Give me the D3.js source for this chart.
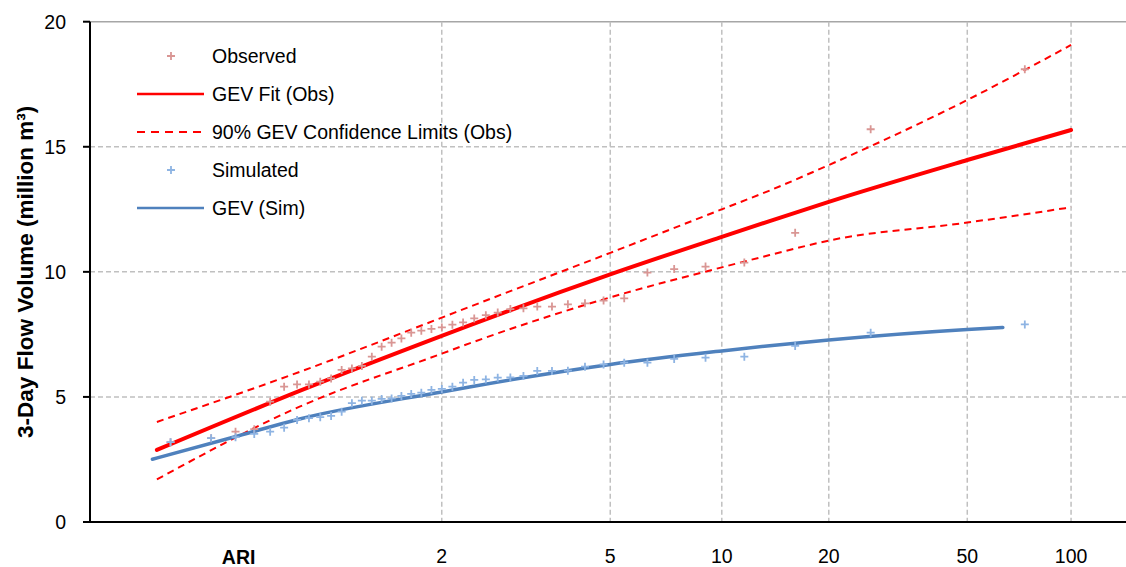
<!DOCTYPE html>
<html>
<head>
<meta charset="utf-8">
<script src="https://cdn.jsdelivr.net/npm/d3@7"></script>
<style>
  html, body { margin: 0; padding: 0; background: #fff; }
  svg { display: block; font-family: "Liberation Sans", Arial, sans-serif; }
</style>
</head>
<body>
<svg id="chart" width="1126" height="567"></svg>
<script>
// ---- Data (x values are Gumbel reduced variates) ----
const ariTicks = [2, 5, 10, 20, 50, 100];
const yTicks = [0, 5, 10, 15, 20];

// plotting positions of the 41 ranked values (largest first)
const plotPos = [4.289, 3.252, 2.744, 2.402, 2.141, 1.930, 1.750, 1.594, 1.455, 1.330,
  1.215, 1.108, 1.009, 0.916, 0.828, 0.743, 0.663, 0.585, 0.510, 0.438,
  0.367, 0.297, 0.229, 0.161, 0.095, 0.029, -0.038, -0.104, -0.171, -0.238,
  -0.307, -0.378, -0.451, -0.527, -0.607, -0.694, -0.788, -0.895, -1.021, -1.185, -1.458];

const observed = [18.10, 15.70, 11.56, 10.37, 10.21, 10.11, 9.97, 8.94, 8.85, 8.74,
  8.70, 8.61, 8.61, 8.54, 8.51, 8.37, 8.27, 8.14, 7.98, 7.89,
  7.78, 7.72, 7.65, 7.57, 7.34, 7.17, 7.01, 6.61, 6.24, 6.14,
  6.08, 5.74, 5.61, 5.50, 5.50, 5.41, 4.81, 3.71, 3.61, 3.35, 3.19];

const simulated = [7.90, 7.57, 7.04, 6.61, 6.57, 6.52, 6.37, 6.37, 6.30, 6.21,
  6.05, 6.04, 6.04, 5.84, 5.78, 5.77, 5.70, 5.68, 5.57, 5.41,
  5.32, 5.28, 5.17, 5.12, 5.04, 4.94, 4.92, 4.85, 4.85, 4.75,
  4.41, 4.24, 4.19, 4.15, 4.08, 3.77, 3.61, 3.52, 3.39, 3.35, 3.19];

// GEV fit to observed + 90% confidence limits
const fitObsX  = [-1.55, -0.59, 0.3665, 0.553, 1.4999, 2.2504, 2.572, 2.9702, 3.9019, 4.6001];
const fitObs   = [2.88, 5.24, 7.44, 7.86, 9.90, 11.40, 12.03, 12.80, 14.47, 15.67];
const clUpper  = [4.00, 6.00, 8.17, 8.60, 10.76, 12.50, 13.25, 14.27, 16.87, 19.07];
const clLower  = [1.70, 4.61, 6.73, 7.14, 8.98, 10.18, 10.67, 11.25, 11.97, 12.58];

// GEV fit to simulated
const fitSimX  = [-1.58, -1.0, -0.59, 0.3665, 0.553, 1.4999, 2.2504, 2.572, 2.9702, 3.9019, 4.141];
const fitSim   = [2.51, 3.45, 4.12, 5.20, 5.40, 6.30, 6.84, 7.05, 7.28, 7.70, 7.78];

const legendLabels = ["Observed", "GEV Fit (Obs)", "90% GEV Confidence Limits (Obs)", "Simulated", "GEV (Sim)"];

// ---- Chart ----
const svg = d3.select("#chart");
const W = 1126, H = 567;
svg.append("rect").attr("width", W).attr("height", H).attr("fill", "#fff");

const gumbel = T => -Math.log(-Math.log(1 - 1 / T));
const x = d3.scaleLinear().domain([-2, 5]).range([90, 1130.5]);
const y = d3.scaleLinear().domain([0, 20]).range([522, 21.7]);

const red = "#ff0000", blue = "#4f81bd", obsCol = "#d99694", simCol = "#8eb4e3";
const grid = "#c0c0c0";
const fs = 19.5;

// gridlines
const g = svg.append("g");
g.selectAll(".hg").data(yTicks.filter(v => v > 0 && v < 20)).enter().append("line")
  .attr("x1", x(-2)).attr("x2", W).attr("y1", d => y(d)).attr("y2", d => y(d))
  .attr("stroke", grid).attr("stroke-width", 1.5).attr("stroke-dasharray", "5,3");
g.append("line").attr("x1", x(-2)).attr("x2", W).attr("y1", y(20)).attr("y2", y(20))
  .attr("stroke", "#a6a6a6").attr("stroke-width", 1.5);
g.selectAll(".vg").data(ariTicks).enter().append("line")
  .attr("x1", d => x(gumbel(d))).attr("x2", d => x(gumbel(d)))
  .attr("y1", y(20)).attr("y2", y(0))
  .attr("stroke", grid).attr("stroke-width", 1.5).attr("stroke-dasharray", "5,3");

// axes
svg.append("line").attr("x1", x(-2)).attr("x2", x(-2)).attr("y1", y(20)).attr("y2", y(0) + 1)
  .attr("stroke", "#000").attr("stroke-width", 2);
svg.append("line").attr("x1", x(-2) - 1).attr("x2", W).attr("y1", y(0)).attr("y2", y(0))
  .attr("stroke", "#000").attr("stroke-width", 2);
svg.selectAll(".yt").data(yTicks).enter().append("line")
  .attr("x1", x(-2) - 7).attr("x2", x(-2)).attr("y1", d => y(d)).attr("y2", d => y(d))
  .attr("stroke", "#000").attr("stroke-width", 2);
svg.selectAll(".yl").data(yTicks).enter().append("text")
  .attr("x", 66).attr("y", d => y(d)).attr("dy", "0.35em")
  .attr("text-anchor", "end").attr("font-size", fs).attr("fill", "#000")
  .text(d => d);
svg.selectAll(".xl").data(ariTicks).enter().append("text")
  .attr("x", d => x(gumbel(d))).attr("y", 563)
  .attr("text-anchor", "middle").attr("font-size", fs).attr("fill", "#000")
  .text(d => d);
svg.append("text").attr("x", x(-1)).attr("y", 564)
  .attr("text-anchor", "middle").attr("font-size", fs).attr("font-weight", "bold")
  .text("ARI");
svg.append("text").attr("transform", `translate(33,${(y(0) + y(20)) / 2}) rotate(-90)`)
  .attr("text-anchor", "middle").attr("font-size", 22.5).attr("font-weight", "bold")
  .text("3-Day Flow Volume (million m³)");

// curves
const line = d3.line().curve(d3.curveMonotoneX);
function drawCurve(xs, ys, color, width, dash) {
  const p = svg.append("path")
    .attr("d", line(xs.map((v, i) => [x(v), y(ys[i])])))
    .attr("fill", "none").attr("stroke", color).attr("stroke-width", width)
    .attr("stroke-linecap", dash ? "butt" : "round");
  if (dash) p.attr("stroke-dasharray", dash);
}
drawCurve(fitObsX, clUpper, red, 2, "7,5");
drawCurve(fitObsX, clLower, red, 2, "7,5");
drawCurve(fitObsX, fitObs, red, 4);
drawCurve(fitSimX, fitSim, blue, 3.5);

// markers
function plus(sel, cx, cy, col) {
  sel.append("path")
    .attr("d", `M${cx - 4},${cy}H${cx + 4}M${cx},${cy - 4}V${cy + 4}`)
    .attr("stroke", col).attr("stroke-width", 1.8).attr("fill", "none");
}
const obsG = svg.append("g");
observed.forEach((v, i) => plus(obsG, x(plotPos[i]), y(v), obsCol));
const simG = svg.append("g");
simulated.forEach((v, i) => plus(simG, x(plotPos[i]), y(v), simCol));

// legend
const lg = svg.append("g");
const ly0 = 56, dyL = 38, lx1 = 137, lx2 = 204, mx = 171, tx = 212;
legendLabels.forEach((lab, i) => {
  const cy = ly0 + i * dyL;
  if (i === 0) plus(lg, mx, cy, obsCol);
  if (i === 1) lg.append("line").attr("x1", lx1).attr("x2", lx2).attr("y1", cy).attr("y2", cy)
    .attr("stroke", red).attr("stroke-width", 2.5);
  if (i === 2) lg.append("line").attr("x1", lx1).attr("x2", lx2).attr("y1", cy).attr("y2", cy)
    .attr("stroke", red).attr("stroke-width", 2).attr("stroke-dasharray", "8,6");
  if (i === 3) plus(lg, mx, cy, simCol);
  if (i === 4) lg.append("line").attr("x1", lx1).attr("x2", lx2).attr("y1", cy).attr("y2", cy)
    .attr("stroke", blue).attr("stroke-width", 2.5);
  lg.append("text").attr("x", tx).attr("y", cy).attr("dy", "0.35em")
    .attr("font-size", fs).attr("fill", "#000").text(lab);
});
</script>
</body>
</html>
